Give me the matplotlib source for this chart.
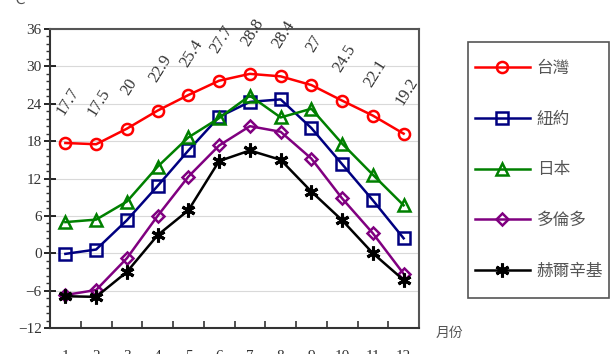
import matplotlib.pyplot as plt
from matplotlib.patches import Rectangle
from matplotlib.ticker import MultipleLocator, FixedLocator

plt.rcParams['font.family'] = ['Liberation Serif', 'Noto Sans CJK TC']

months = [1, 2, 3, 4, 5, 6, 7, 8, 9, 10, 11, 12]
taiwan = [17.7, 17.5, 20, 22.9, 25.4, 27.7, 28.8, 28.4, 27, 24.5, 22.1, 19.2]
newyork = [-0.1, 0.6, 5.3, 10.8, 16.5, 21.9, 24.3, 24.7, 20.1, 14.3, 8.5, 2.4]
japan = [5.0, 5.4, 8.3, 13.9, 18.6, 21.7, 25.3, 21.8, 23.2, 17.6, 12.6, 7.7]
toronto = [-6.7, -5.9, -0.8, 6.0, 12.3, 17.3, 20.4, 19.5, 15.2, 8.8, 3.2, -3.3]
helsinki = [-6.9, -7.0, -3.0, 2.9, 6.9, 14.8, 16.5, 15.0, 9.9, 5.3, 0.0, -4.3]

series_names = ['台灣', '紐約', '日本', '多倫多', '赫爾辛基']
series_values = [taiwan, newyork, japan, toronto, helsinki]
colors = ['#ff0000', '#000080', '#008000', '#800080', '#000000']
markers = ['o', 's', '^', 'D', 'x']

fig = plt.figure(figsize=(6.15, 3.54), dpi=100)
ax = fig.add_axes([50 / 615, 26 / 354, 369 / 615, 299 / 354])

for name, vals, c, m in zip(series_names, series_values, colors, markers):
    if m == 'x':
        # star-like marker for the last series
        ax.plot(months, vals, color=c, lw=1.8, marker=(6, 2, 0), ms=10,
                mew=2.2, label=name)
    else:
        ax.plot(months, vals, color=c, lw=1.8, marker=m,
                ms=8 if m != 'D' else 6.5, mfc='none', mew=1.8, label=name)

# data labels for Taiwan
for x, v in zip(months, taiwan):
    ax.annotate(f'{v:g}', (x, v), xytext=(2, 30), textcoords='offset points',
                rotation=58, ha='center', va='center', fontsize=12,
                color='#333333')

ax.set_xlim(0.5, 12.5)
ax.set_ylim(-12, 36)
ax.yaxis.set_major_locator(MultipleLocator(6))
ax.yaxis.set_minor_locator(MultipleLocator(1.2))
ax.grid(axis='y', color='#d9d9d9', lw=0.8)
ax.set_axisbelow(True)

ax.xaxis.set_major_locator(FixedLocator([i + 0.5 for i in range(0, 13)]))
ax.xaxis.set_minor_locator(FixedLocator(months))
ax.set_xticklabels([])
ax.set_xticklabels([str(m) for m in months], minor=True)
ax.tick_params(axis='x', which='major', direction='in', length=5,
               width=1.2, color='#333333')
ax.tick_params(axis='x', which='minor', length=0, pad=16, labelsize=11,
               labelcolor='#333333')
ax.tick_params(axis='y', which='major', direction='inout', length=8,
               width=1.2, labelsize=11, labelcolor='#333333', pad=2)
ax.tick_params(axis='y', which='minor', direction='out', length=3,
               width=1, color='#333333')

for side in ['left', 'bottom']:
    ax.spines[side].set_color('#333333')
    ax.spines[side].set_linewidth(1.5)
for side in ['top', 'right']:
    ax.spines[side].set_color('#555555')
    ax.spines[side].set_linewidth(1.5)

# legend box drawn separately so it can be taller than the entries need
fig.patches.append(Rectangle((468 / 615, 1 - 298 / 354), 141 / 615, 256 / 354,
                             transform=fig.transFigure, fill=False,
                             edgecolor='#555555', lw=1.2))
leg = fig.legend(loc='center', bbox_to_anchor=(539 / 615, 1 - 170 / 354),
                 frameon=False, handlelength=3.3, labelspacing=2.02,
                 borderaxespad=0, borderpad=0, handletextpad=0.4,
                 prop={'family': ['Noto Sans CJK TC'], 'size': 12})
for t in leg.get_texts():
    t.set_color('#555555')

fig.text(436 / 615, 1 - 333 / 354, '月份', fontsize=10, color='#555555',
         family=['Noto Sans CJK TC'], va='center')
fig.text(10 / 615, 1.0, '℃', fontsize=10, color='#555555',
         family=['DejaVu Sans'], va='center')

fig.savefig('out.png', dpi=100)
